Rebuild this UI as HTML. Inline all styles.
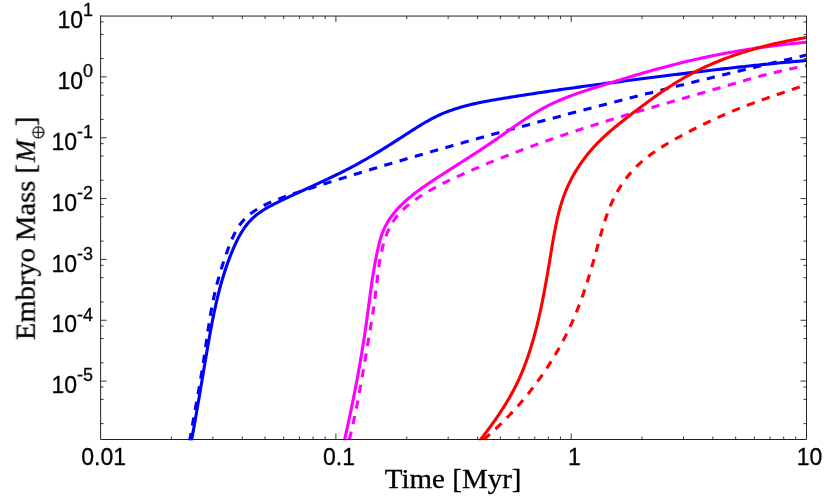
<!DOCTYPE html>
<html><head><meta charset="utf-8"><title>Embryo Mass vs Time</title>
<style>html,body{margin:0;padding:0;background:#fff}svg{display:block}</style></head>
<body><svg width="830" height="498" viewBox="0 0 830 498">
<rect width="830" height="498" fill="#fff"/>
<filter id="g" x="0" y="0" width="830" height="498" filterUnits="userSpaceOnUse" color-interpolation-filters="sRGB"><feOffset dx="0" dy="0"/></filter>
<path d="M171.43,439.50 v-3.00 M171.43,16.05 v3.00 M212.87,439.50 v-3.00 M212.87,16.05 v3.00 M242.26,439.50 v-3.00 M242.26,16.05 v3.00 M265.07,439.50 v-3.00 M265.07,16.05 v3.00 M283.70,439.50 v-3.00 M283.70,16.05 v3.00 M299.45,439.50 v-3.00 M299.45,16.05 v3.00 M313.10,439.50 v-3.00 M313.10,16.05 v3.00 M325.13,439.50 v-3.00 M325.13,16.05 v3.00 M335.90,439.50 v-6.00 M335.90,16.05 v6.00 M406.73,439.50 v-3.00 M406.73,16.05 v3.00 M448.17,439.50 v-3.00 M448.17,16.05 v3.00 M477.56,439.50 v-3.00 M477.56,16.05 v3.00 M500.37,439.50 v-3.00 M500.37,16.05 v3.00 M519.00,439.50 v-3.00 M519.00,16.05 v3.00 M534.75,439.50 v-3.00 M534.75,16.05 v3.00 M548.40,439.50 v-3.00 M548.40,16.05 v3.00 M560.43,439.50 v-3.00 M560.43,16.05 v3.00 M571.20,439.50 v-6.00 M571.20,16.05 v6.00 M642.03,439.50 v-3.00 M642.03,16.05 v3.00 M683.47,439.50 v-3.00 M683.47,16.05 v3.00 M712.86,439.50 v-3.00 M712.86,16.05 v3.00 M735.67,439.50 v-3.00 M735.67,16.05 v3.00 M754.30,439.50 v-3.00 M754.30,16.05 v3.00 M770.05,439.50 v-3.00 M770.05,16.05 v3.00 M783.70,439.50 v-3.00 M783.70,16.05 v3.00 M795.73,439.50 v-3.00 M795.73,16.05 v3.00 M100.60,21.95 h3.00 M806.50,21.95 h-3.00 M100.60,34.36 h3.00 M806.50,34.36 h-3.00 M100.60,58.58 h3.00 M806.50,58.58 h-3.00 M100.60,76.89 h6.00 M806.50,76.89 h-6.00 M100.60,82.79 h3.00 M806.50,82.79 h-3.00 M100.60,95.20 h3.00 M806.50,95.20 h-3.00 M100.60,119.42 h3.00 M806.50,119.42 h-3.00 M100.60,137.73 h6.00 M806.50,137.73 h-6.00 M100.60,143.63 h3.00 M806.50,143.63 h-3.00 M100.60,156.04 h3.00 M806.50,156.04 h-3.00 M100.60,180.26 h3.00 M806.50,180.26 h-3.00 M100.60,198.57 h6.00 M806.50,198.57 h-6.00 M100.60,204.47 h3.00 M806.50,204.47 h-3.00 M100.60,216.88 h3.00 M806.50,216.88 h-3.00 M100.60,241.10 h3.00 M806.50,241.10 h-3.00 M100.60,259.41 h6.00 M806.50,259.41 h-6.00 M100.60,265.31 h3.00 M806.50,265.31 h-3.00 M100.60,277.72 h3.00 M806.50,277.72 h-3.00 M100.60,301.94 h3.00 M806.50,301.94 h-3.00 M100.60,320.25 h6.00 M806.50,320.25 h-6.00 M100.60,326.15 h3.00 M806.50,326.15 h-3.00 M100.60,338.56 h3.00 M806.50,338.56 h-3.00 M100.60,362.78 h3.00 M806.50,362.78 h-3.00 M100.60,381.09 h6.00 M806.50,381.09 h-6.00 M100.60,386.99 h3.00 M806.50,386.99 h-3.00 M100.60,399.40 h3.00 M806.50,399.40 h-3.00 M100.60,423.62 h3.00 M806.50,423.62 h-3.00" stroke="#3a3a3a" stroke-width="1" fill="none"/>
<clipPath id="c"><rect x="100.60" y="16.05" width="706.90" height="424.25"/></clipPath>
<g clip-path="url(#c)" fill="none" stroke-width="3.1">
<path d="M191.13,442.41 L191.59,439.95 L191.95,437.99 L192.32,436.02 L192.68,434.06 L193.04,432.10 L193.40,430.13 L193.75,428.17 L194.11,426.20 L194.46,424.24 L194.81,422.27 L195.16,420.31 L195.51,418.34 L195.85,416.38 L196.20,414.41 L196.54,412.44 L196.88,410.48 L197.22,408.51 L197.56,406.54 L197.90,404.58 L198.23,402.61 L198.57,400.64 L198.91,398.67 L199.24,396.71 L199.57,394.74 L199.91,392.77 L200.24,390.80 L200.57,388.83 L200.90,386.86 L201.24,384.90 L201.57,382.93 L201.90,380.96 L202.23,378.99 L202.56,377.02 L202.89,375.06 L203.22,373.09 L203.56,371.12 L203.89,369.15 L204.22,367.18 L204.55,365.22 L204.89,363.25 L205.22,361.28 L205.56,359.31 L205.89,357.35 L206.23,355.38 L206.57,353.41 L206.90,351.45 L207.24,349.48 L207.58,347.52 L207.93,345.55 L208.27,343.59 L208.61,341.62 L208.96,339.66 L209.31,337.69 L209.66,335.73 L210.01,333.77 L210.37,331.80 L210.73,329.84 L211.10,327.88 L211.47,325.92 L211.84,323.97 L212.22,322.01 L212.60,320.05 L212.99,318.10 L213.38,316.14 L213.78,314.19 L214.18,312.24 L214.60,310.29 L215.01,308.34 L215.44,306.40 L215.87,304.45 L216.32,302.51 L216.77,300.57 L217.22,298.63 L217.69,296.69 L218.16,294.76 L218.65,292.82 L219.14,290.89 L219.65,288.96 L220.16,287.04 L220.69,285.11 L221.22,283.19 L221.77,281.27 L222.33,279.36 L222.90,277.44 L223.48,275.53 L224.08,273.62 L224.69,271.72 L225.31,269.81 L225.94,267.92 L226.59,266.02 L227.25,264.13 L227.93,262.24 L228.62,260.35 L229.33,258.47 L230.05,256.59 L230.79,254.71 L231.54,252.84 L232.31,250.97 L233.10,249.10 L233.90,247.24 L234.72,245.39 L235.57,243.55 L236.44,241.73 L237.33,239.92 L238.25,238.12 L239.19,236.35 L240.17,234.60 L241.18,232.88 L242.22,231.19 L243.29,229.52 L244.41,227.89 L245.56,226.29 L246.74,224.74 L247.97,223.22 L249.25,221.74 L250.57,220.31 L251.93,218.93 L253.34,217.60 L254.80,216.31 L256.30,215.08 L257.84,213.88 L259.42,212.73 L261.03,211.61 L262.67,210.53 L264.35,209.47 L266.05,208.45 L267.77,207.46 L269.52,206.49 L271.28,205.54 L273.06,204.61 L274.85,203.70 L276.66,202.80 L278.47,201.92 L280.28,201.04 L282.10,200.16 L283.91,199.29 L285.73,198.43 L287.55,197.57 L289.37,196.71 L291.19,195.86 L293.01,195.01 L294.83,194.17 L296.65,193.32 L298.47,192.48 L300.30,191.64 L302.12,190.80 L303.94,189.97 L305.76,189.13 L307.58,188.30 L309.40,187.46 L311.22,186.63 L313.03,185.80 L314.85,184.96 L316.66,184.13 L318.48,183.29 L320.29,182.45 L322.10,181.61 L323.91,180.77 L325.72,179.92 L327.52,179.07 L329.32,178.22 L331.12,177.36 L332.92,176.50 L334.71,175.64 L336.51,174.77 L338.30,173.90 L340.08,173.02 L341.86,172.13 L343.64,171.24 L345.42,170.35 L347.19,169.44 L348.96,168.53 L350.72,167.62 L352.48,166.69 L354.24,165.76 L355.99,164.82 L357.74,163.87 L359.48,162.91 L361.22,161.94 L362.95,160.97 L364.68,159.98 L366.41,158.99 L368.13,158.00 L369.85,156.99 L371.57,155.98 L373.28,154.96 L374.99,153.93 L376.70,152.90 L378.40,151.87 L380.10,150.83 L381.80,149.78 L383.50,148.73 L385.20,147.67 L386.89,146.61 L388.58,145.55 L390.27,144.48 L391.96,143.41 L393.65,142.34 L395.34,141.26 L397.03,140.18 L398.71,139.10 L400.40,138.02 L402.09,136.93 L403.77,135.84 L405.46,134.76 L407.14,133.67 L408.83,132.58 L410.52,131.49 L412.21,130.41 L413.90,129.33 L415.60,128.25 L417.30,127.19 L419.00,126.13 L420.71,125.08 L422.42,124.04 L424.14,123.02 L425.86,122.01 L427.59,121.03 L429.33,120.06 L431.08,119.11 L432.84,118.18 L434.61,117.28 L436.39,116.40 L438.17,115.56 L439.97,114.73 L441.78,113.94 L443.60,113.17 L445.44,112.43 L447.28,111.72 L449.13,111.02 L450.99,110.35 L452.85,109.71 L454.73,109.08 L456.61,108.48 L458.51,107.90 L460.41,107.33 L462.31,106.79 L464.23,106.26 L466.15,105.75 L468.07,105.26 L470.00,104.78 L471.94,104.32 L473.88,103.87 L475.83,103.44 L477.78,103.01 L479.74,102.60 L481.70,102.21 L483.66,101.82 L485.63,101.44 L487.60,101.07 L489.57,100.71 L491.54,100.35 L493.52,100.01 L495.49,99.67 L497.47,99.33 L499.45,99.00 L501.43,98.67 L503.41,98.34 L505.39,98.02 L507.37,97.70 L509.35,97.38 L511.33,97.06 L513.31,96.74 L515.29,96.43 L517.27,96.12 L519.24,95.81 L521.22,95.50 L523.20,95.19 L525.18,94.88 L527.15,94.58 L529.13,94.27 L531.11,93.97 L533.09,93.67 L535.06,93.37 L537.04,93.07 L539.01,92.78 L540.99,92.48 L542.97,92.19 L544.94,91.90 L546.92,91.60 L548.89,91.32 L550.87,91.03 L552.84,90.74 L554.82,90.45 L556.79,90.17 L558.77,89.89 L560.74,89.61 L562.72,89.32 L564.69,89.04 L566.67,88.77 L568.64,88.49 L570.62,88.21 L572.59,87.94 L574.57,87.66 L576.54,87.39 L578.52,87.12 L580.49,86.85 L582.47,86.58 L584.44,86.31 L586.42,86.04 L588.39,85.77 L590.37,85.50 L592.34,85.24 L594.31,84.97 L596.29,84.71 L598.26,84.45 L600.24,84.18 L602.21,83.92 L604.19,83.66 L606.16,83.40 L608.14,83.14 L610.11,82.88 L612.09,82.62 L614.07,82.36 L616.04,82.11 L618.02,81.85 L619.99,81.59 L621.97,81.34 L623.94,81.08 L625.92,80.83 L627.90,80.58 L629.87,80.32 L631.85,80.07 L633.83,79.82 L635.80,79.56 L637.78,79.31 L639.76,79.06 L641.74,78.81 L643.72,78.56 L645.69,78.31 L647.67,78.06 L649.65,77.81 L651.63,77.56 L653.61,77.31 L655.59,77.06 L657.57,76.81 L659.55,76.56 L661.53,76.31 L663.51,76.06 L665.49,75.82 L667.47,75.57 L669.45,75.32 L671.43,75.07 L673.41,74.83 L675.39,74.58 L677.38,74.34 L679.36,74.09 L681.34,73.85 L683.32,73.61 L685.30,73.36 L687.29,73.12 L689.27,72.88 L691.25,72.64 L693.24,72.40 L695.22,72.16 L697.20,71.92 L699.19,71.68 L701.17,71.44 L703.15,71.20 L705.14,70.97 L707.12,70.73 L709.11,70.50 L711.09,70.27 L713.07,70.03 L715.06,69.80 L717.04,69.57 L719.03,69.34 L721.01,69.11 L723.00,68.88 L724.98,68.66 L726.97,68.43 L728.95,68.21 L730.94,67.98 L732.92,67.76 L734.91,67.54 L736.90,67.32 L738.88,67.10 L740.87,66.89 L742.85,66.67 L744.84,66.45 L746.82,66.24 L748.81,66.03 L750.80,65.82 L752.78,65.61 L754.77,65.40 L756.75,65.19 L758.74,64.99 L760.73,64.78 L762.71,64.58 L764.70,64.38 L766.68,64.18 L768.67,63.98 L770.66,63.78 L772.64,63.59 L774.63,63.40 L776.61,63.20 L778.60,63.01 L780.58,62.83 L782.57,62.64 L784.56,62.46 L786.54,62.27 L788.53,62.09 L790.51,61.91 L792.50,61.73 L794.48,61.56 L796.47,61.38 L798.46,61.21 L800.44,61.04 L802.43,60.87 L804.41,60.71 L806.40,60.54" stroke="#0000ff"/>
<path d="M189.49,442.07 L189.90,439.60 L190.24,437.63 L190.58,435.66 L190.92,433.69 L191.26,431.72 L191.60,429.75 L191.95,427.78 L192.29,425.82 L192.64,423.85 L192.99,421.89 L193.34,419.92 L193.70,417.96 L194.05,415.99 L194.40,414.03 L194.76,412.07 L195.11,410.11 L195.47,408.14 L195.82,406.18 L196.17,404.22 L196.53,402.26 L196.88,400.29 L197.23,398.33 L197.58,396.37 L197.93,394.41 L198.28,392.45 L198.63,390.48 L198.97,388.52 L199.32,386.56 L199.66,384.59 L200.00,382.63 L200.34,380.66 L200.67,378.70 L201.00,376.73 L201.33,374.76 L201.66,372.79 L201.98,370.83 L202.30,368.86 L202.62,366.89 L202.93,364.91 L203.24,362.94 L203.55,360.97 L203.85,358.99 L204.14,357.01 L204.44,355.04 L204.73,353.06 L205.02,351.08 L205.30,349.10 L205.59,347.12 L205.87,345.14 L206.16,343.16 L206.44,341.18 L206.72,339.20 L207.01,337.22 L207.30,335.24 L207.58,333.26 L207.88,331.29 L208.17,329.31 L208.47,327.33 L208.77,325.36 L209.08,323.39 L209.39,321.41 L209.71,319.44 L210.03,317.47 L210.36,315.51 L210.70,313.54 L211.04,311.58 L211.39,309.62 L211.75,307.66 L212.12,305.71 L212.50,303.75 L212.89,301.80 L213.29,299.86 L213.69,297.91 L214.12,295.97 L214.55,294.04 L214.99,292.10 L215.45,290.17 L215.92,288.25 L216.40,286.32 L216.89,284.40 L217.39,282.48 L217.91,280.56 L218.44,278.65 L218.97,276.73 L219.52,274.82 L220.09,272.91 L220.66,271.00 L221.24,269.10 L221.84,267.19 L222.44,265.28 L223.06,263.38 L223.69,261.48 L224.33,259.57 L224.98,257.67 L225.64,255.76 L226.31,253.86 L227.00,251.95 L227.69,250.05 L228.40,248.14 L229.11,246.24 L229.85,244.34 L230.60,242.45 L231.38,240.57 L232.18,238.70 L233.00,236.86 L233.87,235.03 L234.76,233.24 L235.69,231.47 L236.67,229.73 L237.69,228.03 L238.75,226.37 L239.87,224.76 L241.04,223.19 L242.27,221.67 L243.55,220.20 L244.90,218.78 L246.29,217.41 L247.74,216.10 L249.23,214.83 L250.77,213.60 L252.35,212.42 L253.96,211.28 L255.61,210.18 L257.30,209.11 L259.01,208.09 L260.74,207.10 L262.51,206.15 L264.29,205.23 L266.08,204.34 L267.89,203.47 L269.71,202.64 L271.54,201.83 L273.38,201.05 L275.23,200.29 L277.09,199.56 L278.95,198.84 L280.82,198.14 L282.70,197.45 L284.58,196.78 L286.47,196.12 L288.36,195.48 L290.25,194.84 L292.15,194.21 L294.05,193.59 L295.95,192.97 L297.85,192.35 L299.75,191.73 L301.65,191.12 L303.55,190.50 L305.45,189.89 L307.36,189.28 L309.26,188.67 L311.16,188.06 L313.06,187.45 L314.97,186.84 L316.87,186.24 L318.77,185.63 L320.68,185.03 L322.58,184.42 L324.49,183.82 L326.39,183.22 L328.30,182.62 L330.20,182.02 L332.11,181.42 L334.01,180.83 L335.92,180.23 L337.83,179.64 L339.73,179.04 L341.64,178.45 L343.55,177.86 L345.45,177.27 L347.36,176.68 L349.27,176.09 L351.18,175.50 L353.09,174.91 L354.99,174.33 L356.90,173.74 L358.81,173.16 L360.72,172.57 L362.63,171.99 L364.54,171.41 L366.45,170.83 L368.36,170.25 L370.27,169.67 L372.18,169.09 L374.09,168.52 L376.00,167.94 L377.92,167.37 L379.83,166.79 L381.74,166.22 L383.65,165.65 L385.56,165.08 L387.48,164.51 L389.39,163.94 L391.30,163.37 L393.22,162.80 L395.13,162.23 L397.04,161.67 L398.96,161.10 L400.87,160.54 L402.78,159.98 L404.70,159.41 L406.61,158.85 L408.53,158.29 L410.44,157.73 L412.36,157.17 L414.28,156.61 L416.19,156.05 L418.11,155.50 L420.02,154.94 L421.94,154.39 L423.86,153.83 L425.77,153.28 L427.69,152.72 L429.61,152.17 L431.53,151.62 L433.44,151.07 L435.36,150.52 L437.28,149.97 L439.20,149.42 L441.12,148.88 L443.03,148.33 L444.95,147.78 L446.87,147.24 L448.79,146.69 L450.71,146.15 L452.63,145.60 L454.55,145.06 L456.47,144.52 L458.39,143.98 L460.31,143.44 L462.23,142.90 L464.15,142.36 L466.07,141.82 L468.00,141.28 L469.92,140.75 L471.84,140.21 L473.76,139.67 L475.68,139.14 L477.60,138.60 L479.53,138.07 L481.45,137.54 L483.37,137.00 L485.29,136.47 L487.22,135.94 L489.14,135.41 L491.06,134.88 L492.99,134.35 L494.91,133.82 L496.83,133.29 L498.76,132.77 L500.68,132.24 L502.61,131.71 L504.53,131.19 L506.46,130.66 L508.38,130.14 L510.31,129.61 L512.23,129.09 L514.16,128.56 L516.08,128.04 L518.01,127.52 L519.93,127.00 L521.86,126.48 L523.78,125.96 L525.71,125.44 L527.64,124.92 L529.56,124.40 L531.49,123.88 L533.42,123.36 L535.34,122.84 L537.27,122.33 L539.20,121.81 L541.13,121.29 L543.05,120.78 L544.98,120.26 L546.91,119.75 L548.84,119.23 L550.77,118.72 L552.69,118.21 L554.62,117.69 L556.55,117.18 L558.48,116.67 L560.41,116.16 L562.34,115.65 L564.27,115.14 L566.19,114.63 L568.12,114.12 L570.05,113.61 L571.98,113.10 L573.91,112.59 L575.84,112.08 L577.77,111.58 L579.70,111.07 L581.63,110.56 L583.56,110.06 L585.49,109.55 L587.42,109.05 L589.36,108.54 L591.29,108.04 L593.22,107.53 L595.15,107.03 L597.08,106.53 L599.01,106.02 L600.94,105.52 L602.88,105.02 L604.81,104.52 L606.74,104.02 L608.67,103.52 L610.60,103.02 L612.54,102.52 L614.47,102.02 L616.40,101.52 L618.33,101.03 L620.27,100.53 L622.20,100.03 L624.13,99.54 L626.07,99.04 L628.00,98.55 L629.93,98.05 L631.87,97.56 L633.80,97.06 L635.73,96.57 L637.67,96.08 L639.60,95.58 L641.54,95.09 L643.47,94.60 L645.41,94.11 L647.34,93.62 L649.28,93.13 L651.21,92.64 L653.15,92.15 L655.08,91.66 L657.02,91.17 L658.95,90.69 L660.89,90.20 L662.82,89.71 L664.76,89.23 L666.69,88.74 L668.63,88.26 L670.57,87.77 L672.50,87.29 L674.44,86.80 L676.38,86.32 L678.31,85.84 L680.25,85.36 L682.19,84.88 L684.12,84.39 L686.06,83.91 L688.00,83.43 L689.93,82.95 L691.87,82.48 L693.81,82.00 L695.75,81.52 L697.69,81.04 L699.62,80.56 L701.56,80.09 L703.50,79.61 L705.44,79.14 L707.38,78.66 L709.31,78.19 L711.25,77.71 L713.19,77.24 L715.13,76.77 L717.07,76.30 L719.01,75.82 L720.95,75.35 L722.89,74.88 L724.83,74.41 L726.77,73.94 L728.71,73.47 L730.65,73.00 L732.59,72.54 L734.53,72.07 L736.47,71.60 L738.41,71.13 L740.35,70.67 L742.29,70.20 L744.23,69.74 L746.17,69.27 L748.11,68.81 L750.05,68.35 L751.99,67.88 L753.93,67.42 L755.87,66.96 L757.82,66.50 L759.76,66.04 L761.70,65.58 L763.64,65.12 L765.58,64.66 L767.52,64.20 L769.47,63.74 L771.41,63.28 L773.35,62.83 L775.29,62.37 L777.24,61.92 L779.18,61.46 L781.12,61.01 L783.06,60.55 L785.01,60.10 L786.95,59.64 L788.89,59.19 L790.84,58.74 L792.78,58.29 L794.72,57.84 L796.67,57.39 L798.61,56.94 L800.55,56.49 L802.50,56.04 L804.44,55.59 L806.39,55.14" stroke="#0000ff" stroke-dasharray="8.3 7.6" stroke-dashoffset="-0.8"/>
<path d="M344.06,442.04 L344.62,439.60 L345.06,437.66 L345.50,435.71 L345.93,433.76 L346.37,431.81 L346.80,429.86 L347.23,427.91 L347.66,425.96 L348.08,424.01 L348.50,422.06 L348.92,420.11 L349.34,418.16 L349.76,416.20 L350.17,414.25 L350.58,412.30 L350.99,410.34 L351.39,408.39 L351.80,406.43 L352.20,404.48 L352.60,402.52 L352.99,400.56 L353.38,398.60 L353.77,396.65 L354.16,394.69 L354.55,392.73 L354.93,390.77 L355.31,388.81 L355.69,386.85 L356.06,384.89 L356.43,382.93 L356.80,380.96 L357.17,379.00 L357.53,377.04 L357.89,375.07 L358.25,373.11 L358.60,371.14 L358.96,369.18 L359.31,367.21 L359.65,365.25 L360.00,363.28 L360.34,361.31 L360.67,359.34 L361.01,357.38 L361.34,355.41 L361.67,353.44 L361.99,351.47 L362.32,349.50 L362.64,347.53 L362.95,345.55 L363.27,343.58 L363.58,341.61 L363.89,339.64 L364.19,337.66 L364.49,335.69 L364.79,333.71 L365.08,331.74 L365.37,329.76 L365.66,327.79 L365.95,325.81 L366.23,323.83 L366.51,321.86 L366.78,319.88 L367.06,317.90 L367.33,315.92 L367.59,313.94 L367.86,311.96 L368.12,309.98 L368.38,308.00 L368.64,306.02 L368.91,304.04 L369.17,302.06 L369.43,300.08 L369.69,298.10 L369.96,296.12 L370.23,294.14 L370.50,292.16 L370.77,290.18 L371.04,288.20 L371.32,286.22 L371.61,284.24 L371.90,282.27 L372.19,280.29 L372.49,278.31 L372.79,276.34 L373.10,274.36 L373.42,272.39 L373.75,270.41 L374.08,268.44 L374.42,266.47 L374.77,264.50 L375.13,262.53 L375.50,260.56 L375.88,258.59 L376.26,256.63 L376.66,254.66 L377.07,252.70 L377.50,250.74 L377.93,248.78 L378.38,246.82 L378.84,244.87 L379.33,242.92 L379.84,240.98 L380.38,239.06 L380.96,237.14 L381.58,235.25 L382.24,233.38 L382.95,231.53 L383.71,229.70 L384.54,227.90 L385.41,226.13 L386.34,224.39 L387.32,222.67 L388.35,220.99 L389.42,219.33 L390.53,217.70 L391.68,216.11 L392.86,214.54 L394.08,212.99 L395.33,211.48 L396.62,209.98 L397.94,208.52 L399.28,207.08 L400.66,205.66 L402.06,204.26 L403.49,202.89 L404.95,201.54 L406.42,200.20 L407.92,198.89 L409.45,197.60 L410.99,196.32 L412.55,195.06 L414.13,193.81 L415.72,192.59 L417.33,191.37 L418.96,190.17 L420.59,188.99 L422.24,187.81 L423.90,186.65 L425.57,185.49 L427.24,184.35 L428.92,183.22 L430.61,182.09 L432.30,180.97 L433.99,179.86 L435.68,178.76 L437.37,177.65 L439.07,176.56 L440.76,175.46 L442.45,174.37 L444.14,173.29 L445.82,172.20 L447.51,171.12 L449.19,170.05 L450.87,168.97 L452.55,167.89 L454.23,166.82 L455.91,165.75 L457.58,164.68 L459.26,163.61 L460.93,162.54 L462.60,161.47 L464.27,160.39 L465.94,159.32 L467.61,158.25 L469.27,157.18 L470.94,156.10 L472.60,155.03 L474.26,153.95 L475.92,152.87 L477.58,151.78 L479.24,150.70 L480.89,149.61 L482.55,148.52 L484.20,147.42 L485.85,146.32 L487.50,145.21 L489.15,144.11 L490.79,142.99 L492.44,141.87 L494.08,140.75 L495.73,139.62 L497.37,138.48 L499.01,137.34 L500.65,136.19 L502.29,135.04 L503.93,133.89 L505.57,132.74 L507.21,131.58 L508.85,130.43 L510.49,129.28 L512.14,128.12 L513.78,126.98 L515.43,125.83 L517.09,124.69 L518.74,123.55 L520.40,122.42 L522.06,121.30 L523.73,120.18 L525.40,119.08 L527.08,117.98 L528.76,116.89 L530.45,115.82 L532.15,114.75 L533.85,113.70 L535.55,112.66 L537.27,111.64 L538.99,110.63 L540.72,109.64 L542.46,108.66 L544.20,107.71 L545.96,106.77 L547.72,105.85 L549.50,104.95 L551.28,104.07 L553.07,103.21 L554.87,102.38 L556.68,101.56 L558.50,100.75 L560.33,99.97 L562.16,99.20 L564.00,98.45 L565.85,97.71 L567.70,96.98 L569.56,96.27 L571.43,95.58 L573.30,94.89 L575.18,94.21 L577.06,93.55 L578.94,92.89 L580.83,92.25 L582.73,91.61 L584.62,90.98 L586.52,90.36 L588.42,89.74 L590.33,89.12 L592.23,88.52 L594.14,87.91 L596.04,87.31 L597.95,86.71 L599.86,86.11 L601.77,85.52 L603.68,84.92 L605.59,84.33 L607.50,83.73 L609.40,83.14 L611.31,82.55 L613.22,81.96 L615.13,81.37 L617.04,80.78 L618.95,80.20 L620.86,79.62 L622.77,79.03 L624.68,78.45 L626.59,77.88 L628.50,77.30 L630.41,76.73 L632.33,76.16 L634.24,75.59 L636.15,75.02 L638.07,74.46 L639.98,73.90 L641.90,73.34 L643.81,72.79 L645.73,72.24 L647.65,71.69 L649.57,71.15 L651.49,70.61 L653.41,70.07 L655.33,69.54 L657.25,69.00 L659.17,68.48 L661.10,67.96 L663.02,67.44 L664.95,66.92 L666.88,66.41 L668.81,65.91 L670.74,65.41 L672.67,64.91 L674.60,64.42 L676.54,63.93 L678.47,63.45 L680.41,62.97 L682.35,62.50 L684.28,62.03 L686.23,61.56 L688.17,61.11 L690.11,60.65 L692.06,60.21 L694.00,59.76 L695.95,59.32 L697.90,58.89 L699.85,58.46 L701.80,58.04 L703.75,57.62 L705.71,57.21 L707.66,56.80 L709.62,56.39 L711.57,55.99 L713.53,55.60 L715.49,55.21 L717.45,54.82 L719.41,54.44 L721.37,54.07 L723.34,53.70 L725.30,53.33 L727.26,52.97 L729.23,52.61 L731.20,52.26 L733.17,51.91 L735.13,51.57 L737.10,51.23 L739.07,50.90 L741.04,50.57 L743.02,50.24 L744.99,49.92 L746.96,49.61 L748.94,49.30 L750.91,48.99 L752.89,48.69 L754.86,48.39 L756.84,48.10 L758.82,47.81 L760.79,47.53 L762.77,47.25 L764.75,46.97 L766.73,46.70 L768.71,46.44 L770.69,46.18 L772.67,45.92 L774.65,45.67 L776.64,45.42 L778.62,45.17 L780.60,44.93 L782.58,44.70 L784.57,44.47 L786.55,44.24 L788.53,44.02 L790.52,43.80 L792.50,43.59 L794.49,43.38 L796.47,43.17 L798.46,42.97 L800.44,42.77 L802.43,42.58 L804.41,42.39 L806.40,42.21" stroke="#ff00ff"/>
<path d="M348.70,442.03 L349.31,439.60 L349.79,437.66 L350.26,435.73 L350.73,433.79 L351.19,431.85 L351.64,429.90 L352.09,427.96 L352.54,426.01 L352.97,424.07 L353.41,422.12 L353.83,420.16 L354.25,418.21 L354.67,416.26 L355.08,414.30 L355.49,412.35 L355.89,410.39 L356.29,408.43 L356.69,406.47 L357.08,404.51 L357.46,402.54 L357.84,400.58 L358.22,398.62 L358.59,396.65 L358.97,394.69 L359.33,392.72 L359.70,390.75 L360.06,388.78 L360.42,386.81 L360.77,384.85 L361.13,382.88 L361.48,380.91 L361.82,378.93 L362.17,376.96 L362.51,374.99 L362.86,373.02 L363.20,371.05 L363.53,369.08 L363.87,367.11 L364.21,365.14 L364.54,363.16 L364.87,361.19 L365.21,359.22 L365.54,357.25 L365.87,355.28 L366.20,353.31 L366.53,351.34 L366.86,349.37 L367.19,347.40 L367.52,345.44 L367.85,343.47 L368.18,341.50 L368.51,339.53 L368.84,337.57 L369.17,335.60 L369.50,333.64 L369.82,331.67 L370.15,329.71 L370.47,327.74 L370.80,325.78 L371.12,323.81 L371.43,321.84 L371.75,319.88 L372.06,317.91 L372.37,315.94 L372.68,313.97 L372.98,312.00 L373.27,310.03 L373.57,308.06 L373.86,306.08 L374.14,304.11 L374.42,302.13 L374.69,300.15 L374.96,298.17 L375.22,296.18 L375.47,294.20 L375.72,292.21 L375.97,290.22 L376.20,288.23 L376.44,286.24 L376.67,284.24 L376.90,282.25 L377.13,280.25 L377.37,278.25 L377.60,276.26 L377.85,274.26 L378.10,272.27 L378.36,270.27 L378.63,268.28 L378.92,266.29 L379.21,264.31 L379.53,262.32 L379.85,260.34 L380.20,258.37 L380.57,256.39 L380.96,254.42 L381.37,252.46 L381.80,250.50 L382.26,248.55 L382.75,246.60 L383.27,244.66 L383.82,242.73 L384.40,240.81 L385.02,238.90 L385.67,237.01 L386.36,235.14 L387.09,233.29 L387.86,231.46 L388.68,229.65 L389.54,227.87 L390.44,226.12 L391.39,224.39 L392.39,222.70 L393.45,221.04 L394.55,219.42 L395.71,217.83 L396.92,216.28 L398.19,214.77 L399.50,213.29 L400.85,211.85 L402.25,210.44 L403.68,209.06 L405.16,207.71 L406.66,206.39 L408.20,205.10 L409.76,203.84 L411.35,202.61 L412.96,201.40 L414.59,200.21 L416.24,199.05 L417.90,197.91 L419.57,196.79 L421.25,195.70 L422.95,194.62 L424.65,193.56 L426.36,192.52 L428.09,191.50 L429.82,190.49 L431.56,189.51 L433.31,188.53 L435.06,187.57 L436.82,186.63 L438.59,185.70 L440.37,184.78 L442.15,183.88 L443.94,182.98 L445.73,182.10 L447.53,181.22 L449.33,180.36 L451.14,179.50 L452.95,178.65 L454.76,177.81 L456.58,176.98 L458.40,176.15 L460.22,175.33 L462.05,174.51 L463.87,173.69 L465.70,172.88 L467.53,172.07 L469.36,171.27 L471.19,170.47 L473.02,169.67 L474.85,168.88 L476.69,168.09 L478.53,167.30 L480.37,166.52 L482.21,165.74 L484.05,164.97 L485.89,164.20 L487.74,163.43 L489.58,162.67 L491.43,161.91 L493.28,161.15 L495.13,160.40 L496.98,159.65 L498.83,158.90 L500.69,158.16 L502.54,157.42 L504.40,156.68 L506.26,155.95 L508.12,155.22 L509.98,154.50 L511.84,153.77 L513.70,153.05 L515.57,152.34 L517.43,151.62 L519.30,150.91 L521.17,150.21 L523.04,149.50 L524.91,148.80 L526.78,148.10 L528.65,147.41 L530.53,146.72 L532.40,146.03 L534.28,145.34 L536.15,144.66 L538.03,143.98 L539.91,143.30 L541.79,142.63 L543.67,141.96 L545.55,141.29 L547.44,140.62 L549.32,139.96 L551.21,139.30 L553.09,138.64 L554.98,137.98 L556.87,137.33 L558.76,136.68 L560.65,136.03 L562.54,135.39 L564.43,134.75 L566.32,134.11 L568.22,133.47 L570.11,132.83 L572.00,132.20 L573.90,131.57 L575.80,130.94 L577.69,130.31 L579.59,129.69 L581.49,129.07 L583.39,128.45 L585.29,127.83 L587.19,127.22 L589.09,126.61 L591.00,126.00 L592.90,125.39 L594.80,124.78 L596.71,124.18 L598.61,123.57 L600.52,122.97 L602.43,122.38 L604.33,121.78 L606.24,121.19 L608.15,120.59 L610.06,120.00 L611.97,119.41 L613.88,118.83 L615.79,118.24 L617.70,117.66 L619.61,117.08 L621.52,116.50 L623.43,115.92 L625.35,115.34 L627.26,114.77 L629.17,114.19 L631.09,113.62 L633.00,113.05 L634.92,112.48 L636.83,111.91 L638.75,111.34 L640.66,110.77 L642.58,110.21 L644.49,109.64 L646.41,109.08 L648.33,108.52 L650.24,107.96 L652.16,107.40 L654.08,106.84 L656.00,106.28 L657.91,105.72 L659.83,105.16 L661.75,104.60 L663.67,104.04 L665.59,103.49 L667.51,102.93 L669.43,102.38 L671.34,101.82 L673.26,101.26 L675.18,100.71 L677.10,100.16 L679.02,99.60 L680.94,99.05 L682.86,98.49 L684.78,97.94 L686.70,97.38 L688.61,96.83 L690.53,96.27 L692.45,95.72 L694.37,95.16 L696.29,94.61 L698.21,94.05 L700.13,93.49 L702.04,92.93 L703.96,92.38 L705.88,91.82 L707.80,91.26 L709.71,90.70 L711.63,90.14 L713.55,89.58 L715.46,89.02 L717.38,88.45 L719.30,87.89 L721.21,87.33 L723.13,86.76 L725.05,86.20 L726.96,85.64 L728.88,85.08 L730.80,84.52 L732.71,83.96 L734.63,83.40 L736.55,82.84 L738.47,82.29 L740.38,81.73 L742.30,81.18 L744.22,80.64 L746.14,80.09 L748.07,79.55 L749.99,79.01 L751.91,78.47 L753.84,77.94 L755.76,77.41 L757.69,76.89 L759.62,76.37 L761.55,75.86 L763.48,75.35 L765.41,74.84 L767.34,74.34 L769.28,73.85 L771.21,73.36 L773.15,72.88 L775.09,72.40 L777.03,71.93 L778.97,71.47 L780.92,71.01 L782.87,70.56 L784.81,70.12 L786.77,69.69 L788.72,69.26 L790.67,68.84 L792.63,68.43 L794.59,68.03 L796.55,67.64 L798.52,67.25 L800.49,66.88 L802.46,66.51 L804.43,66.16 L806.40,65.81" stroke="#ff00ff" stroke-dasharray="8.3 7.6" stroke-dashoffset="-2.5"/>
<path d="M479.45,440.97 L480.99,438.99 L482.21,437.42 L483.43,435.84 L484.65,434.26 L485.86,432.67 L487.06,431.07 L488.26,429.47 L489.45,427.86 L490.63,426.25 L491.81,424.63 L492.98,423.01 L494.14,421.37 L495.29,419.74 L496.44,418.09 L497.57,416.44 L498.70,414.78 L499.81,413.12 L500.92,411.45 L502.01,409.77 L503.10,408.09 L504.17,406.39 L505.23,404.69 L506.27,402.99 L507.31,401.27 L508.33,399.55 L509.33,397.82 L510.33,396.09 L511.30,394.35 L512.27,392.59 L513.21,390.83 L514.14,389.07 L515.06,387.29 L515.96,385.51 L516.84,383.72 L517.70,381.92 L518.55,380.11 L519.38,378.29 L520.19,376.47 L520.99,374.64 L521.77,372.80 L522.54,370.95 L523.29,369.10 L524.02,367.24 L524.74,365.38 L525.44,363.51 L526.13,361.64 L526.81,359.76 L527.48,357.87 L528.13,355.98 L528.76,354.09 L529.39,352.19 L530.00,350.29 L530.60,348.39 L531.19,346.48 L531.77,344.57 L532.34,342.66 L532.90,340.74 L533.45,338.82 L533.99,336.91 L534.51,334.98 L535.03,333.06 L535.54,331.13 L536.04,329.21 L536.53,327.28 L537.02,325.35 L537.49,323.41 L537.96,321.48 L538.42,319.54 L538.87,317.60 L539.31,315.66 L539.75,313.71 L540.18,311.77 L540.60,309.82 L541.02,307.88 L541.43,305.93 L541.83,303.97 L542.23,302.02 L542.62,300.07 L543.01,298.11 L543.39,296.15 L543.77,294.19 L544.14,292.23 L544.51,290.27 L544.88,288.30 L545.24,286.34 L545.60,284.37 L545.95,282.41 L546.30,280.44 L546.65,278.47 L546.99,276.50 L547.34,274.52 L547.68,272.55 L548.01,270.57 L548.35,268.60 L548.69,266.62 L549.02,264.64 L549.35,262.67 L549.68,260.69 L550.01,258.70 L550.34,256.72 L550.67,254.74 L551.00,252.76 L551.34,250.77 L551.67,248.79 L552.00,246.80 L552.33,244.82 L552.67,242.83 L553.01,240.85 L553.35,238.86 L553.70,236.88 L554.05,234.90 L554.41,232.92 L554.78,230.94 L555.16,228.96 L555.55,226.99 L555.95,225.02 L556.36,223.06 L556.78,221.10 L557.21,219.14 L557.66,217.19 L558.12,215.24 L558.60,213.30 L559.10,211.37 L559.62,209.44 L560.15,207.52 L560.70,205.61 L561.27,203.70 L561.87,201.81 L562.48,199.92 L563.12,198.04 L563.79,196.17 L564.48,194.31 L565.19,192.46 L565.93,190.62 L566.70,188.79 L567.50,186.97 L568.32,185.16 L569.16,183.36 L570.03,181.58 L570.93,179.81 L571.85,178.05 L572.79,176.30 L573.76,174.57 L574.76,172.84 L575.77,171.13 L576.81,169.44 L577.88,167.76 L578.96,166.09 L580.07,164.44 L581.20,162.80 L582.35,161.17 L583.53,159.56 L584.72,157.97 L585.93,156.39 L587.17,154.83 L588.42,153.28 L589.70,151.75 L590.99,150.23 L592.31,148.73 L593.64,147.25 L594.99,145.79 L596.36,144.34 L597.75,142.90 L599.15,141.49 L600.57,140.08 L602.00,138.69 L603.45,137.32 L604.91,135.95 L606.39,134.60 L607.88,133.26 L609.38,131.93 L610.89,130.62 L612.41,129.31 L613.94,128.02 L615.48,126.73 L617.03,125.45 L618.59,124.18 L620.16,122.92 L621.73,121.67 L623.31,120.42 L624.89,119.18 L626.48,117.95 L628.08,116.72 L629.67,115.49 L631.27,114.27 L632.88,113.06 L634.48,111.85 L636.09,110.64 L637.69,109.43 L639.30,108.22 L640.91,107.02 L642.51,105.82 L644.12,104.63 L645.73,103.43 L647.34,102.24 L648.96,101.06 L650.57,99.88 L652.19,98.71 L653.81,97.54 L655.44,96.38 L657.06,95.23 L658.70,94.08 L660.33,92.94 L661.97,91.81 L663.61,90.68 L665.26,89.57 L666.92,88.46 L668.57,87.36 L670.24,86.27 L671.91,85.19 L673.58,84.13 L675.27,83.07 L676.96,82.02 L678.65,80.99 L680.36,79.97 L682.07,78.96 L683.79,77.96 L685.52,76.98 L687.25,76.01 L688.99,75.05 L690.75,74.11 L692.50,73.18 L694.27,72.26 L696.04,71.36 L697.83,70.46 L699.61,69.58 L701.41,68.72 L703.21,67.86 L705.02,67.02 L706.83,66.19 L708.65,65.37 L710.48,64.56 L712.31,63.77 L714.15,62.99 L716.00,62.22 L717.85,61.46 L719.71,60.71 L721.57,59.97 L723.43,59.25 L725.30,58.54 L727.18,57.83 L729.06,57.14 L730.95,56.46 L732.84,55.79 L734.73,55.13 L736.63,54.49 L738.53,53.85 L740.44,53.22 L742.35,52.61 L744.26,52.00 L746.18,51.40 L748.10,50.82 L750.02,50.24 L751.95,49.68 L753.88,49.12 L755.81,48.58 L757.75,48.04 L759.68,47.51 L761.62,47.00 L763.56,46.49 L765.50,45.99 L767.45,45.50 L769.40,45.02 L771.34,44.55 L773.29,44.09 L775.24,43.63 L777.19,43.19 L779.15,42.75 L781.10,42.33 L783.05,41.91 L785.01,41.50 L786.96,41.09 L788.92,40.70 L790.87,40.31 L792.83,39.93 L794.78,39.56 L796.73,39.20 L798.69,38.85 L800.64,38.50 L802.59,38.16 L804.54,37.83 L806.49,37.50" stroke="#ff0000"/>
<path d="M481.72,441.24 L483.62,439.61 L485.12,438.32 L486.62,437.03 L488.11,435.72 L489.59,434.40 L491.06,433.08 L492.53,431.74 L493.99,430.40 L495.44,429.04 L496.89,427.68 L498.33,426.31 L499.76,424.93 L501.18,423.54 L502.60,422.14 L504.01,420.73 L505.41,419.32 L506.80,417.89 L508.18,416.46 L509.56,415.02 L510.93,413.57 L512.29,412.11 L513.64,410.64 L514.99,409.17 L516.32,407.68 L517.65,406.19 L518.97,404.69 L520.28,403.19 L521.58,401.67 L522.88,400.15 L524.16,398.62 L525.44,397.08 L526.71,395.53 L527.97,393.98 L529.22,392.41 L530.46,390.85 L531.69,389.27 L532.91,387.69 L534.12,386.10 L535.33,384.50 L536.52,382.89 L537.71,381.28 L538.88,379.66 L540.05,378.04 L541.20,376.40 L542.35,374.77 L543.49,373.12 L544.61,371.47 L545.73,369.81 L546.84,368.14 L547.93,366.47 L549.02,364.79 L550.09,363.11 L551.16,361.42 L552.22,359.72 L553.26,358.02 L554.30,356.31 L555.32,354.60 L556.33,352.87 L557.33,351.15 L558.33,349.42 L559.31,347.68 L560.28,345.94 L561.23,344.19 L562.18,342.43 L563.12,340.68 L564.04,338.91 L564.96,337.14 L565.86,335.37 L566.75,333.59 L567.63,331.80 L568.50,330.01 L569.35,328.22 L570.20,326.42 L571.03,324.61 L571.85,322.81 L572.66,320.99 L573.46,319.17 L574.24,317.35 L575.02,315.53 L575.78,313.69 L576.53,311.86 L577.27,310.02 L578.00,308.18 L578.72,306.33 L579.43,304.48 L580.12,302.62 L580.81,300.76 L581.49,298.90 L582.16,297.03 L582.83,295.16 L583.48,293.29 L584.12,291.41 L584.76,289.53 L585.39,287.65 L586.01,285.76 L586.63,283.87 L587.23,281.97 L587.83,280.08 L588.43,278.18 L589.02,276.27 L589.60,274.37 L590.18,272.46 L590.75,270.55 L591.31,268.63 L591.87,266.72 L592.43,264.80 L592.98,262.88 L593.53,260.95 L594.07,259.03 L594.61,257.10 L595.15,255.16 L595.68,253.23 L596.21,251.30 L596.74,249.36 L597.27,247.42 L597.79,245.48 L598.32,243.54 L598.84,241.59 L599.37,239.65 L599.90,237.71 L600.44,235.77 L600.98,233.83 L601.53,231.90 L602.08,229.97 L602.65,228.04 L603.22,226.12 L603.81,224.20 L604.41,222.29 L605.02,220.38 L605.65,218.48 L606.29,216.59 L606.95,214.71 L607.63,212.83 L608.33,210.97 L609.05,209.11 L609.79,207.27 L610.55,205.43 L611.34,203.61 L612.15,201.80 L612.99,200.00 L613.86,198.22 L614.75,196.45 L615.67,194.69 L616.61,192.95 L617.59,191.22 L618.58,189.52 L619.61,187.82 L620.66,186.15 L621.74,184.49 L622.85,182.86 L623.98,181.24 L625.14,179.64 L626.32,178.06 L627.53,176.51 L628.77,174.97 L630.04,173.46 L631.33,171.97 L632.65,170.50 L633.99,169.06 L635.36,167.64 L636.76,166.24 L638.19,164.87 L639.64,163.53 L641.11,162.21 L642.61,160.91 L644.13,159.64 L645.67,158.39 L647.24,157.16 L648.82,155.95 L650.42,154.76 L652.04,153.58 L653.67,152.43 L655.32,151.29 L656.98,150.17 L658.66,149.07 L660.35,147.98 L662.05,146.90 L663.76,145.84 L665.48,144.79 L667.21,143.75 L668.94,142.73 L670.69,141.71 L672.43,140.71 L674.18,139.71 L675.94,138.72 L677.69,137.74 L679.45,136.77 L681.21,135.80 L682.97,134.85 L684.74,133.90 L686.50,132.95 L688.27,132.02 L690.04,131.09 L691.81,130.17 L693.59,129.25 L695.36,128.35 L697.14,127.45 L698.92,126.55 L700.71,125.67 L702.49,124.79 L704.28,123.92 L706.07,123.05 L707.87,122.20 L709.66,121.35 L711.46,120.50 L713.26,119.67 L715.07,118.84 L716.87,118.02 L718.68,117.20 L720.49,116.39 L722.31,115.59 L724.13,114.79 L725.95,114.00 L727.77,113.22 L729.60,112.45 L731.43,111.68 L733.26,110.91 L735.10,110.16 L736.94,109.41 L738.78,108.67 L740.63,107.93 L742.47,107.20 L744.33,106.48 L746.18,105.76 L748.04,105.05 L749.90,104.34 L751.77,103.65 L753.64,102.95 L755.51,102.26 L757.38,101.58 L759.26,100.90 L761.13,100.23 L763.01,99.56 L764.89,98.89 L766.78,98.23 L768.66,97.57 L770.55,96.91 L772.43,96.26 L774.32,95.60 L776.21,94.95 L778.10,94.31 L779.99,93.66 L781.88,93.01 L783.77,92.37 L785.66,91.73 L787.55,91.08 L789.44,90.44 L791.33,89.80 L793.22,89.15 L795.11,88.51 L796.99,87.86 L798.88,87.21 L800.76,86.56 L802.64,85.91 L804.52,85.26 L806.40,84.61" stroke="#ff0000" stroke-dasharray="8.3 7.6" stroke-dashoffset="-2.5"/>
</g>
<path d="M100.60,15.55 V439.50 H806.50 V16.05 H100.10" fill="none" stroke="#222" stroke-width="1" stroke-linejoin="miter"/>
<g filter="url(#g)" stroke="#000" stroke-width="0.3" stroke-linejoin="round">
<g font-family="'Liberation Sans', sans-serif" fill="#000"><text x="93.00" y="28.15" text-anchor="end" font-size="23"><tspan>10</tspan><tspan dy="-11.8" font-size="18">1</tspan></text><text x="93.00" y="88.99" text-anchor="end" font-size="23"><tspan>10</tspan><tspan dy="-11.8" font-size="18">0</tspan></text><text x="93.00" y="149.83" text-anchor="end" font-size="23"><tspan>10</tspan><tspan dy="-11.8" font-size="18">-1</tspan></text><text x="93.00" y="210.67" text-anchor="end" font-size="23"><tspan>10</tspan><tspan dy="-11.8" font-size="18">-2</tspan></text><text x="93.00" y="271.51" text-anchor="end" font-size="23"><tspan>10</tspan><tspan dy="-11.8" font-size="18">-3</tspan></text><text x="93.00" y="332.35" text-anchor="end" font-size="23"><tspan>10</tspan><tspan dy="-11.8" font-size="18">-4</tspan></text><text x="93.00" y="393.19" text-anchor="end" font-size="23"><tspan>10</tspan><tspan dy="-11.8" font-size="18">-5</tspan></text><text x="103.70" y="465.10" text-anchor="middle" font-size="23">0.01</text><text x="339.00" y="465.10" text-anchor="middle" font-size="23">0.1</text><text x="574.30" y="465.10" text-anchor="middle" font-size="23">1</text><text x="809.60" y="465.10" text-anchor="middle" font-size="23">10</text></g>
<text transform="translate(384.8,488.2) scale(1.036,1)" font-family="'Liberation Serif', serif" font-size="28" fill="#000">Time [Myr]</text>
<g transform="translate(34.7,340.1) rotate(-90)" fill="#000" font-family="'Liberation Serif', serif" font-size="28">
<text transform="scale(1.02,1)">Embryo Mass [</text>
<text transform="translate(178.1,0) scale(0.95,1)" font-style="italic">M</text>
<text transform="translate(213.9,0) scale(1.02,1)">]</text>
<g transform="translate(207.7,3.55)" stroke="#000" stroke-width="1.1" fill="none"><circle r="5.6"/><path d="M-5.6,0 H5.6 M0,-5.6 V5.6"/></g>
</g>
</g>
</svg></body></html>
